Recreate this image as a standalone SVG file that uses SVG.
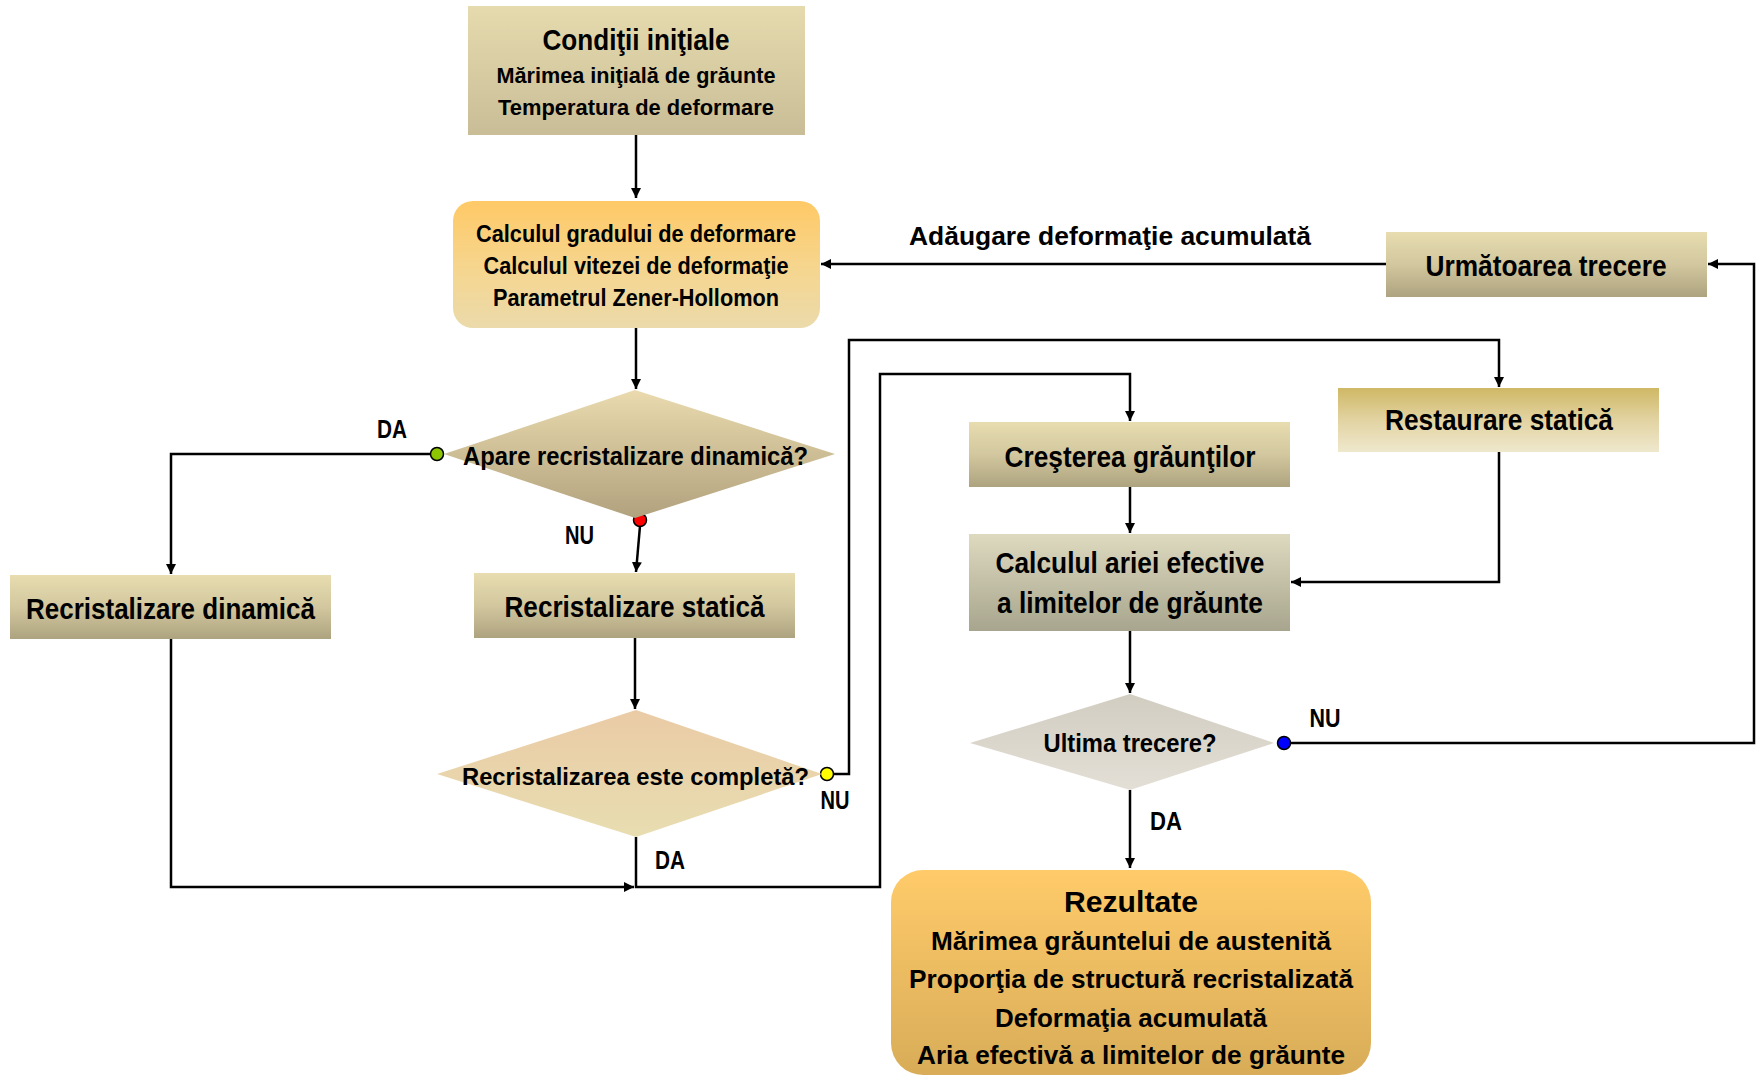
<svg xmlns="http://www.w3.org/2000/svg" width="1762" height="1076" viewBox="0 0 1762 1076">
<defs>
<linearGradient id="gTan" x1="0" y1="0" x2="0" y2="1"><stop offset="0" stop-color="#E7DDB0"/><stop offset="0.5" stop-color="#D2C79E"/><stop offset="1" stop-color="#ADA37F"/></linearGradient>
<linearGradient id="gTanLight" x1="0" y1="0" x2="0" y2="1"><stop offset="0" stop-color="#E6DBAE"/><stop offset="1" stop-color="#C9BD97"/></linearGradient>
<linearGradient id="gGrey" x1="0" y1="0" x2="0" y2="1"><stop offset="0" stop-color="#DEDAC0"/><stop offset="1" stop-color="#A8A58E"/></linearGradient>
<linearGradient id="gOrange" x1="0" y1="0" x2="0" y2="1"><stop offset="0" stop-color="#FFC966"/><stop offset="0.55" stop-color="#F5D690"/><stop offset="1" stop-color="#EBDAAB"/></linearGradient>
<linearGradient id="gResult" x1="0" y1="0" x2="0" y2="1"><stop offset="0" stop-color="#FFCB6A"/><stop offset="1" stop-color="#D8AC58"/></linearGradient>
<linearGradient id="gRest" x1="0" y1="0" x2="0" y2="1"><stop offset="0" stop-color="#CFB865"/><stop offset="0.5" stop-color="#E2D3A2"/><stop offset="1" stop-color="#EFE8CD"/></linearGradient>
<linearGradient id="gD1" x1="0" y1="0" x2="0" y2="1"><stop offset="0" stop-color="#EADAAE"/><stop offset="1" stop-color="#B1A27E"/></linearGradient>
<linearGradient id="gD2" x1="0" y1="0" x2="0" y2="1"><stop offset="0" stop-color="#EACBA6"/><stop offset="1" stop-color="#E8DDB1"/></linearGradient>
<linearGradient id="gD3" x1="0" y1="0" x2="0" y2="1"><stop offset="0" stop-color="#D2CDC1"/><stop offset="1" stop-color="#E3DFD6"/></linearGradient>
<marker id="arr" viewBox="0 0 10 10" refX="10" refY="5" markerWidth="10" markerHeight="10" markerUnits="userSpaceOnUse" orient="auto">
<path d="M0,0 L10,5 L0,10 z" fill="#000"/>
</marker>
<style>
text{font-family:"Liberation Sans",Arial,sans-serif;font-weight:bold;fill:#000;text-anchor:middle}
.t28{font-size:29.5px}
.t25{font-size:26px}
.t23{font-size:23.5px}
.t21{font-size:21.5px}
.lbl{font-size:25px}
.c{fill:none;stroke:#000;stroke-width:2.5}
.a{marker-end:url(#arr)}
.dot{stroke:#000;stroke-width:1.5}
</style>
</defs>

<g id="connectors">
<path class="c a" d="M636,135 L636,198"/>
<path class="c a" d="M636,328 L636,389"/>
<path class="c a" d="M437,454 L171,454 L171,574"/>
<path class="c a" d="M640,526 L636,572"/>
<path class="c a" d="M635,638 L635,709"/>
<path class="c a" d="M827,774 L849,774 L849,340 L1499,340 L1499,387"/>
<path class="c a" d="M636,837 L636,887 L880,887 L880,374 L1130,374 L1130,421"/>
<path class="c a" d="M171,639 L171,887 L634,887"/>
<path class="c a" d="M1130,487 L1130,533"/>
<path class="c a" d="M1499,452 L1499,582 L1291,582"/>
<path class="c a" d="M1130,631 L1130,693"/>
<path class="c a" d="M1284,743 L1754,743 L1754,264 L1708,264"/>
<path class="c a" d="M1386,264 L821,264"/>
<path class="c a" d="M1130,790 L1130,868"/>
<circle class="dot" cx="437" cy="454" r="6.5" fill="#8DC600"/>
<circle class="dot" cx="640" cy="520" r="6.5" fill="#FF0000"/>
<circle class="dot" cx="827" cy="774" r="6.5" fill="#FFFF00"/>
<circle class="dot" cx="1284" cy="743" r="6.5" fill="#0000FF"/>
</g>

<g id="labels">
<text class="lbl" x="392" y="438" textLength="30" lengthAdjust="spacingAndGlyphs">DA</text>
<text class="lbl" x="579.5" y="544" textLength="29" lengthAdjust="spacingAndGlyphs">NU</text>
<text class="lbl" x="835" y="809" textLength="29" lengthAdjust="spacingAndGlyphs">NU</text>
<text class="lbl" x="670" y="869" textLength="30" lengthAdjust="spacingAndGlyphs">DA</text>
<text class="lbl" x="1325" y="727" textLength="31" lengthAdjust="spacingAndGlyphs">NU</text>
<text class="lbl" x="1166" y="830" textLength="32" lengthAdjust="spacingAndGlyphs">DA</text>
<text class="t25" x="1110" y="245" textLength="402" lengthAdjust="spacingAndGlyphs">Adăugare deformaţie acumulată</text>
</g>

<g id="n-conditii">
<rect x="468" y="6" width="337" height="129" fill="url(#gTanLight)"/>
<text class="t28" x="636" y="50" textLength="187" lengthAdjust="spacingAndGlyphs">Condiţii iniţiale</text>
<text class="t21" x="636" y="83" textLength="279" lengthAdjust="spacingAndGlyphs">Mărimea iniţială de grăunte</text>
<text class="t21" x="636" y="115" textLength="276" lengthAdjust="spacingAndGlyphs">Temperatura de deformare</text>
</g>

<g id="n-calcul">
<rect x="453" y="201" width="367" height="127" rx="20" fill="url(#gOrange)"/>
<text class="t23" x="636" y="242" textLength="320" lengthAdjust="spacingAndGlyphs">Calculul gradului de deformare</text>
<text class="t23" x="636" y="274" textLength="305" lengthAdjust="spacingAndGlyphs">Calculul vitezei de deformaţie</text>
<text class="t23" x="636" y="306" textLength="286" lengthAdjust="spacingAndGlyphs">Parametrul Zener-Hollomon</text>
</g>

<g id="n-apare">
<polygon points="635,390 835,454 635,518 444,454" fill="url(#gD1)"/>
<text class="t25" x="635.5" y="465" textLength="345" lengthAdjust="spacingAndGlyphs">Apare recristalizare dinamică?</text>
</g>

<g id="n-dinamica">
<rect x="10" y="575" width="321" height="64" fill="url(#gTan)"/>
<text class="t28" x="170.5" y="619" textLength="289" lengthAdjust="spacingAndGlyphs">Recristalizare dinamică</text>
</g>

<g id="n-statica">
<rect x="474" y="573" width="321" height="65" fill="url(#gTan)"/>
<text class="t28" x="634.5" y="617" textLength="260" lengthAdjust="spacingAndGlyphs">Recristalizare statică</text>
</g>

<g id="n-completa">
<polygon points="636,710 822,774 636,837 437,774" fill="url(#gD2)"/>
<text x="635.5" y="785" style="font-size:24.5px" textLength="347" lengthAdjust="spacingAndGlyphs">Recristalizarea este completă?</text>
</g>

<g id="n-urmatoarea">
<rect x="1386" y="232" width="321" height="65" fill="url(#gTan)"/>
<text class="t28" x="1546" y="276" textLength="241" lengthAdjust="spacingAndGlyphs">Următoarea trecere</text>
</g>

<g id="n-restaurare">
<rect x="1338" y="388" width="321" height="64" fill="url(#gRest)"/>
<text class="t28" x="1499" y="430" textLength="228" lengthAdjust="spacingAndGlyphs">Restaurare statică</text>
</g>

<g id="n-crestere">
<rect x="969" y="422" width="321" height="65" fill="url(#gTan)"/>
<text class="t28" x="1130" y="467" textLength="251" lengthAdjust="spacingAndGlyphs">Creşterea grăunţilor</text>
</g>

<g id="n-aria">
<rect x="969" y="534" width="321" height="97" fill="url(#gGrey)"/>
<text class="t28" x="1130" y="573" textLength="269" lengthAdjust="spacingAndGlyphs">Calculul ariei efective</text>
<text class="t28" x="1130" y="613" textLength="266" lengthAdjust="spacingAndGlyphs">a limitelor de grăunte</text>
</g>

<g id="n-ultima">
<polygon points="1130,694 1274,743 1130,790 970,743" fill="url(#gD3)"/>
<text class="t25" x="1130" y="752" textLength="173" lengthAdjust="spacingAndGlyphs">Ultima trecere?</text>
</g>

<g id="n-rezultate">
<rect x="891" y="870" width="480" height="205" rx="32" fill="url(#gResult)"/>
<text class="t28" x="1131" y="912" textLength="134" lengthAdjust="spacingAndGlyphs">Rezultate</text>
<text class="t25" x="1131" y="950" textLength="400" lengthAdjust="spacingAndGlyphs">Mărimea grăuntelui de austenită</text>
<text class="t25" x="1131" y="988" textLength="444" lengthAdjust="spacingAndGlyphs">Proporţia de structură recristalizată</text>
<text class="t25" x="1131" y="1027" textLength="272" lengthAdjust="spacingAndGlyphs">Deformaţia acumulată</text>
<text class="t25" x="1131" y="1064" textLength="428" lengthAdjust="spacingAndGlyphs">Aria efectivă a limitelor de grăunte</text>
</g>
</svg>
